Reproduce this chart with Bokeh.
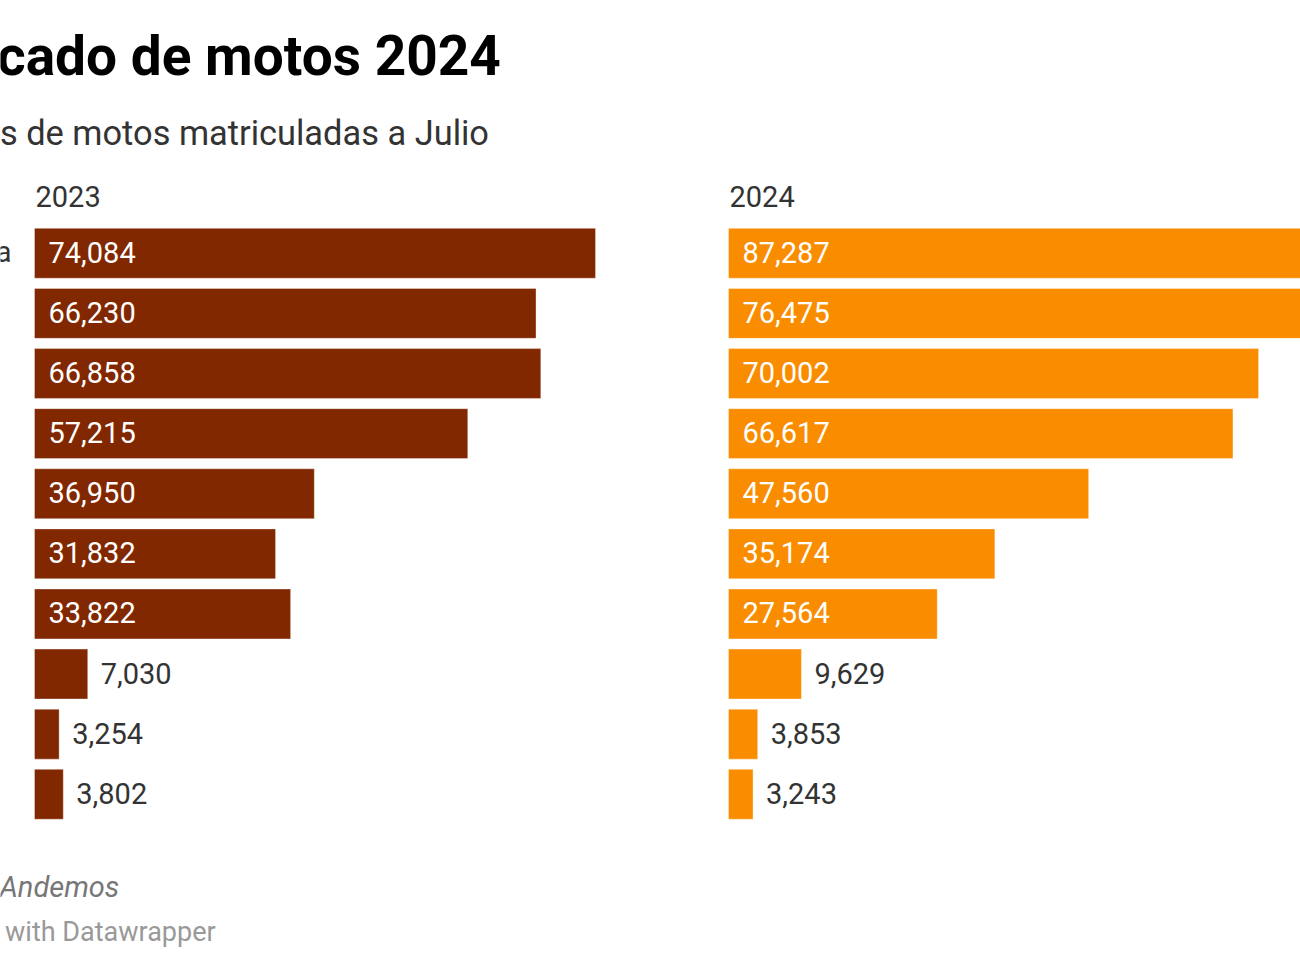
from bokeh.plotting import figure
from bokeh.models import Range1d, ColumnDataSource
from bokeh.embed import file_html
from bokeh.resources import INLINE
from bokeh.core.properties import value

# ---- data ----
categories = ["Yamaha", "Bajaj", "Honda", "AKT", "Suzuki", "TVS", "Hero", "Victory", "KTM", "Kymco"]
years = ["2023", "2024"]
values_2023 = [74084, 66230, 66858, 57215, 36950, 31832, 33822, 7030, 3254, 3802]
values_2024 = [87287, 76475, 70002, 66617, 47560, 35174, 27564, 9629, 3853, 3243]
title = "Mercado de motos 2024"
subtitle = "Unidades de motos matriculadas a Julio"
source_label = "Source:"
source_name = "Andemos"
credit = "Created with Datawrapper"

# ---- layout constants (pixels) ----
W, H = 1300, 975
PX_PER_UNIT = 561 / 74084.0
LEFT0 = 34.0      # pixel x of zero for 2023 panel
RIGHT0 = 728.0    # pixel x of zero for 2024 panel
ROW0 = 252.8      # pixel y of first row center
ROW_STEP = 60.11
FONT = "Roboto"
DARK = "#822800"
ORANGE = "#FA8C00"
TXT = "#333333"

p = figure(width=W, height=H, output_backend="svg", toolbar_location=None,
           x_range=Range1d(0, W), y_range=Range1d(H, 0),
           x_axis_location=None, y_axis_location=None, min_border=0)
p.grid.visible = False
p.outline_line_color = None
p.background_fill_color = "white"
p.border_fill_color = "white"

p.extra_x_ranges = {
    "left": Range1d(-LEFT0 / PX_PER_UNIT, (W - LEFT0) / PX_PER_UNIT),
    "right": Range1d(-RIGHT0 / PX_PER_UNIT, (W - RIGHT0) / PX_PER_UNIT),
}
p.extra_y_ranges = {"rows": Range1d((H - ROW0) / ROW_STEP, -ROW0 / ROW_STEP)}

rows = list(range(len(categories)))
INSIDE_MIN = 150 / PX_PER_UNIT  # values whose bar is wide enough to hold the label


def panel(vals, rng, color):
    src = ColumnDataSource(dict(row=rows, v=vals))
    p.hbar(y="row", left=0, right="v", height=0.83, source=src,
           fill_color=color, line_color="white", line_alpha=0.35, line_width=1,
           x_range_name=rng, y_range_name="rows")
    ins = [i for i, v in enumerate(vals) if v >= INSIDE_MIN]
    out = [i for i, v in enumerate(vals) if v < INSIDE_MIN]
    s_in = ColumnDataSource(dict(row=[rows[i] for i in ins], x=[0] * len(ins),
                                 lbl=[f"{vals[i]:,}" for i in ins]))
    s_out = ColumnDataSource(dict(row=[rows[i] for i in out], x=[vals[i] for i in out],
                                  lbl=[f"{vals[i]:,}" for i in out]))
    p.text(x="x", y="row", text="lbl", source=s_in, x_offset=14, y_offset=-1,
           text_font=value(FONT), text_font_size="29px", text_color="white",
           text_baseline="middle", text_align="left",
           x_range_name=rng, y_range_name="rows")
    p.text(x="x", y="row", text="lbl", source=s_out, x_offset=13, y_offset=-1,
           text_font=value(FONT), text_font_size="29px", text_color=TXT,
           text_baseline="middle", text_align="left",
           x_range_name=rng, y_range_name="rows")


panel(values_2023, "left", DARK)
panel(values_2024, "right", ORANGE)

# category labels (left aligned, mostly outside the visible area)
cat_src = ColumnDataSource(dict(row=rows, x=[-94] * len(rows), lbl=categories))
p.text(x="x", y="row", text="lbl", source=cat_src, y_offset=-1,
       text_font=value(FONT), text_font_size="29px", text_color=TXT,
       text_baseline="middle", text_align="left", y_range_name="rows")


def txt(x, y, s, size, color, style="normal"):
    p.text(x=[x], y=[y], text=[s], text_font=value(FONT), text_font_size=size,
           text_font_style=style, text_color=color,
           text_baseline="alphabetic", text_align="left")


# headers
for yr, x0 in zip(years, [LEFT0, RIGHT0]):
    txt(x0 + 1, 196, yr, "29px", TXT)

# title / subtitle
txt(-101, 55, title, "55px", "#000000", "bold")
txt(-126, 132, subtitle, "34.4px", TXT)

# footer
txt(-106, 886, source_label, "29px", "#777777")
txt(-1, 886, source_name, "29px", "#777777", "italic")
txt(-96, 931, credit, "27px", "#999999")

open("out.html", "w").write(file_html(p, INLINE))
